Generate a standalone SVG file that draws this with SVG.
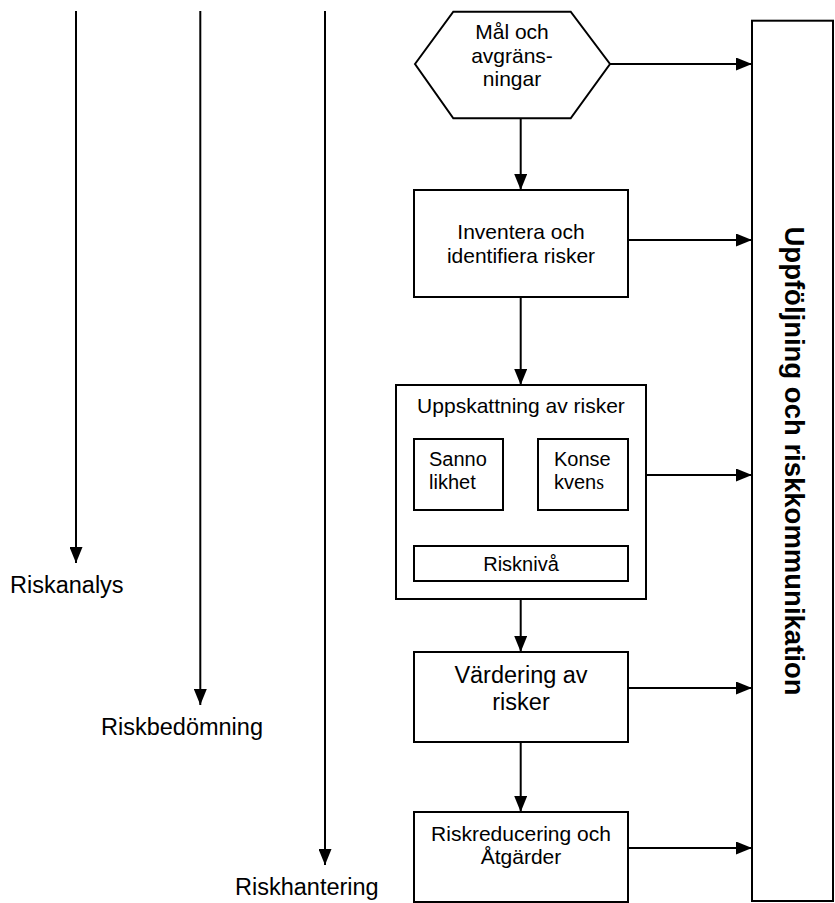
<svg xmlns="http://www.w3.org/2000/svg" width="835" height="903" viewBox="0 0 835 903">
<style>
.box{fill:#fff;stroke:#000;stroke-width:2}
.ln{fill:none;stroke:#000;stroke-width:2;marker-end:url(#ah)}
.t{font-family:"Liberation Sans",Arial,sans-serif;font-size:21px;fill:#000}
.c{text-anchor:middle}
.big{font-size:23.5px}
.sm{font-size:20px}
.b{font-weight:bold;font-size:27.5px}
</style>
<defs>
<marker id="ah" markerUnits="userSpaceOnUse" markerWidth="16" markerHeight="13" refX="16" refY="6.5" orient="auto">
<path d="M0,0 L16,6.5 L0,13 z" fill="#000"/>
</marker>
</defs>
<rect width="835" height="903" fill="#fff"/>
<g id="connectors">
<line class="ln" x1="76" y1="11" x2="76" y2="563"/>
<line class="ln" x1="200.3" y1="11" x2="200.3" y2="705"/>
<line class="ln" x1="325" y1="11" x2="325" y2="865"/>
<line class="ln" x1="520.7" y1="118" x2="520.7" y2="190"/>
<line class="ln" x1="610" y1="64" x2="752" y2="64"/>
<line class="ln" x1="520.7" y1="297" x2="520.7" y2="385"/>
<line class="ln" x1="628" y1="240" x2="752" y2="240"/>
<line class="ln" x1="520.7" y1="599" x2="520.7" y2="652"/>
<line class="ln" x1="646" y1="475" x2="752" y2="475"/>
<line class="ln" x1="467.7" y1="510" x2="467.7" y2="546"/>
<line class="ln" x1="573" y1="510" x2="573" y2="546"/>
<line class="ln" x1="520.7" y1="742" x2="520.7" y2="812"/>
<line class="ln" x1="628" y1="688" x2="752" y2="688"/>
<line class="ln" x1="628" y1="848" x2="752" y2="848"/>
</g>
<g id="label-riskanalys"><text class="t big" x="10" y="593">Riskanalys</text></g>
<g id="label-riskbedomning"><text class="t big" x="101" y="735">Riskbedömning</text></g>
<g id="label-riskhantering"><text class="t big" x="235" y="895">Riskhantering</text></g>
<g id="node-mal">
<polygon class="box" points="415,64 453.3,11.7 570.7,11.7 610,64 570.7,118.3 453.3,118.3"/>
<text class="t c" x="512" y="39">Mål och</text>
<text class="t c" x="512" y="62.7">avgräns-</text>
<text class="t c" x="512" y="86">ningar</text>
</g>
<g id="node-inventera">
<rect class="box" x="414" y="190" width="214" height="107"/>
<text class="t c" x="521" y="239">Inventera och</text>
<text class="t c" x="521" y="263">identifiera risker</text>
</g>
<g id="node-uppskattning">
<rect class="box" x="396" y="385" width="250" height="214"/>
<text class="t c" x="521" y="413">Uppskattning av risker</text>
</g>
<g id="node-sannolikhet">
<rect class="box" x="414" y="439" width="89" height="71"/>
<text class="t sm" x="429" y="466">Sanno</text>
<text class="t sm" x="429" y="489">likhet</text>
</g>
<g id="node-konsekvens">
<rect class="box" x="538" y="439" width="90" height="71"/>
<text class="t sm" x="554" y="466">Konse</text>
<text class="t sm" x="554" y="489">kven<tspan font-family="Liberation Serif, serif">s</tspan></text>
</g>
<g id="node-riskniva">
<rect class="box" x="414" y="546" width="214" height="35"/>
<text class="t sm c" x="521" y="571">Risknivå</text>
</g>
<g id="node-vardering">
<rect class="box" x="414" y="652" width="214" height="90"/>
<text class="t big c" x="521" y="683">Värdering av</text>
<text class="t big c" x="521" y="710">risker</text>
</g>
<g id="node-riskreducering">
<rect class="box" x="414" y="812" width="214" height="90"/>
<text class="t c" x="521" y="841">Riskreducering och</text>
<text class="t c" x="521" y="864">Åtgärder</text>
</g>
<g id="node-uppfoljning">
<rect class="box" x="752" y="20.7" width="81" height="880.3"/>
<text class="t b c" transform="translate(795,461) rotate(90)" x="0" y="10">Uppföljning och riskkommunikation</text>
</g>
</svg>
